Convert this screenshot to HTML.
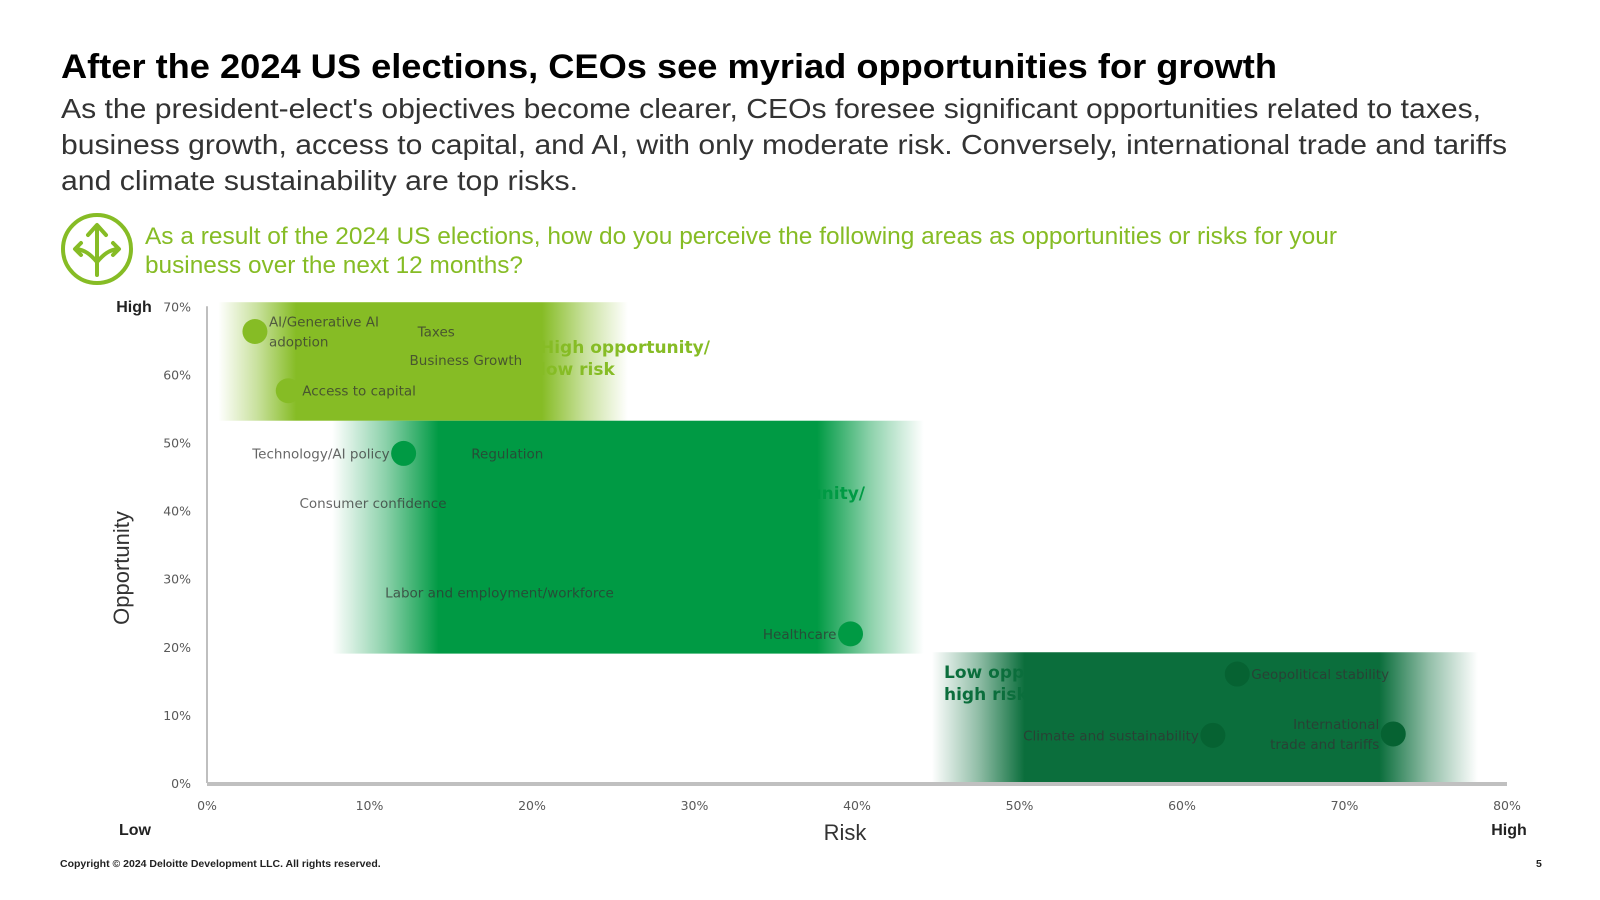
<!DOCTYPE html>
<html><head><meta charset="utf-8"><style>
html,body{margin:0;padding:0;background:#fff;}
svg{display:block;font-family:"Liberation Sans",sans-serif;}
</style></head><body>
<svg id="chart" width="1600" height="900" viewBox="0 0 1600 900" xmlns="http://www.w3.org/2000/svg">
<defs id="defs"></defs>
<text x="61" y="78" font-size="34" font-weight="bold" fill="#000" textLength="1216" lengthAdjust="spacingAndGlyphs">After the 2024 US elections, CEOs see myriad opportunities for growth</text>
<g font-size="28" fill="#333">
<text x="61" y="118" textLength="1420" lengthAdjust="spacingAndGlyphs">As the president-elect's objectives become clearer, CEOs foresee significant opportunities related to taxes,</text>
<text x="61" y="154" textLength="1446" lengthAdjust="spacingAndGlyphs">business growth, access to capital, and AI, with only moderate risk. Conversely, international trade and tariffs</text>
<text x="61" y="190" textLength="517" lengthAdjust="spacingAndGlyphs">and climate sustainability are top risks.</text>
</g>
<g fill="none" stroke="#86bc25" stroke-width="4" stroke-linecap="round" stroke-linejoin="round">
<circle cx="97" cy="249" r="34"/>
<path d="M97 275 V226 M88 235 L97 225 L106 235"/>
<path d="M97 262 C90 254 85 250 76 249 M81 243 L75 249 L81 255"/>
<path d="M97 262 C104 254 109 250 118 249 M113 243 L119 249 L113 255"/>
</g>
<g font-size="24" fill="#86bc25">
<text x="145" y="244" textLength="1192" lengthAdjust="spacingAndGlyphs">As a result of the 2024 US elections, how do you perceive the following areas as opportunities or risks for your</text>
<text x="145" y="273" textLength="378" lengthAdjust="spacingAndGlyphs">business over the next 12 months?</text>
</g>
<g id="plot"></g>
<text x="134" y="312" font-size="16" font-weight="bold" fill="#222" text-anchor="middle">High</text>
<text x="135" y="835" font-size="16" font-weight="bold" fill="#222" text-anchor="middle">Low</text>
<text x="1509" y="835" font-size="16" font-weight="bold" fill="#222" text-anchor="middle">High</text>
<text x="845" y="840" font-size="22" fill="#333" text-anchor="middle">Risk</text>
<text x="0" y="0" font-size="22" fill="#333" text-anchor="middle" transform="translate(129,568) rotate(-90)">Opportunity</text>
<text x="60" y="867" font-size="10.5" font-weight="bold" fill="#222">Copyright © 2024 Deloitte Development LLC. All rights reserved.</text>
<text x="1536" y="867" font-size="10.5" font-weight="bold" fill="#222">5</text>
</svg>
<script>
const categories = ["AI/Generative AI|adoption","Taxes","Business Growth","Access to capital","Technology/AI policy","Regulation","Consumer confidence","Labor and employment/workforce","Healthcare","Geopolitical stability","Climate and sustainability","International|trade and tariffs"];
const riskValues = [2.95,12.1,11.6,5.0,12.1,15.4,15.6,25.9,39.6,63.4,61.9,73.0];
const oppValues = [66.3,66.3,62.1,57.6,48.4,48.4,41.1,28.0,21.9,16.0,7.0,7.2];
const labelSide = ["right","right","right","right","left","right","left","left","left","right","left","left"];
const pointGroup = [0,0,0,0,1,1,1,1,1,2,2,2];
const zoneNames = ["High opportunity/|low risk","Moderate opportunity/|moderate risk","Low opportunity/|high risk"];
const zoneRiskMin = [0.7,7.7,44.6];
const zoneRiskMax = [25.9,44.1,78.2];
const zoneOppMin = [53.2,19.0,0];
const zoneOppMax = [70.6,53.2,19.2];
const xTicks = [0,10,20,30,40,50,60,70,80];
const yTicks = [0,10,20,30,40,50,60,70];

const colors = ["#86bc25","#009a44","#0b6e3c"];
const dotColors = ["#86bc25","#009a44","#066232"];
const LF = '"DejaVu Sans", sans-serif';
const X = r => 207 + r * 16.25;
const Y = o => 783 - o * 6.81;
const NS = "http://www.w3.org/2000/svg";
const plot = document.getElementById("plot");
const defs = document.getElementById("defs");
function mk(tag, attrs, parent) {
  const e = document.createElementNS(NS, tag);
  for (const k in attrs) e.setAttribute(k, attrs[k]);
  parent.appendChild(e);
  return e;
}
const ax = mk("line", {x1:X(0), y1:Y(70), x2:X(0), y2:Y(0), stroke:"#bfbfbf", "stroke-width":2}, plot);


yTicks.forEach(t => {
  const e = mk("text", {x:191, y:Y(t)+5, "font-size":12.5, fill:"#595959", "text-anchor":"end", "font-family":LF}, plot);
  e.textContent = t + "%";
  
  
});
xTicks.forEach(t => {
  const e = mk("text", {x:X(t), y:810, "font-size":12.5, fill:"#595959", "text-anchor":"middle", "font-family":LF}, plot);
  e.textContent = t + "%";
  
  
});
const zoneTitlePos = [[540,353,"start"],[865,499,"end"],[944,678,"start"]];
zoneNames.forEach((n, i) => {
  const parts = n.split("|");
  const p = zoneTitlePos[i];
  const t = mk("text", {x:p[0], y:p[1], "font-size":17, "font-weight":"bold", fill:colors[i], "text-anchor":p[2], "font-family":LF}, plot);
  t.textContent = parts[0];
  
  
  const t2 = mk("text", {x:p[2]==="end" ? p[0]-205 : p[0], y:p[1]+22, "font-size":17, "font-weight":"bold", fill:colors[i], "font-family":LF}, plot);
  t2.textContent = parts[1];
  
  
});
// points of first two groups beneath zones
categories.forEach((c, i) => {
  if (pointGroup[i] === 2) return;
  const d = mk("circle", {cx:X(riskValues[i]), cy:Y(oppValues[i]), r:12.5, fill:dotColors[pointGroup[i]]}, plot);
  
  
});
const fades = [[0.19,0.79],[0.18,0.82],[0.17,0.82]];
zoneNames.forEach((n, i) => {
  const x0 = X(zoneRiskMin[i]), x1 = X(zoneRiskMax[i]);
  const g = mk("linearGradient", {id:"zg"+i, gradientUnits:"userSpaceOnUse", x1:x0, y1:0, x2:x1, y2:0}, defs);
  [[0,0],[fades[i][0]*0.5,0.45],[fades[i][0],1],[fades[i][1],1],[(1+fades[i][1])/2,0.45],[1,0]].forEach(s => {
    mk("stop", {offset:s[0], "stop-color":colors[i], "stop-opacity":s[1]}, g);
  });
  const r = mk("rect", {x:x0, y:Y(zoneOppMax[i]), width:x1-x0, height:Y(zoneOppMin[i])-Y(zoneOppMax[i]), fill:"url(#zg"+i+")"}, plot);
  
  
});
// high-risk group points drawn above zone
categories.forEach((c, i) => {
  if (pointGroup[i] !== 2) return;
  const d = mk("circle", {cx:X(riskValues[i]), cy:Y(oppValues[i]), r:12.5, fill:dotColors[2]}, plot);
  
  
});
categories.forEach((c, i) => {
  const cx = X(riskValues[i]), cy = Y(oppValues[i]);
  const lines = c.split("|");
  const right = labelSide[i] === "right";
  lines.forEach((ln, j) => {
    const ty = cy + 5 + (j - (lines.length - 1) / 2) * 20;
    const t = mk("text", {x: right ? cx + 14 : cx - 14, y: ty, "font-size":13.5, fill:"#333", "fill-opacity":0.75, "text-anchor": right ? "start" : "end", "font-family":LF}, plot);
    t.textContent = ln;
    
    
  });
});
const xa = mk("line", {x1:X(0), y1:784, x2:X(80), y2:784, stroke:"#c0c0c0", "stroke-width":4}, plot);


</script>
</body></html>
